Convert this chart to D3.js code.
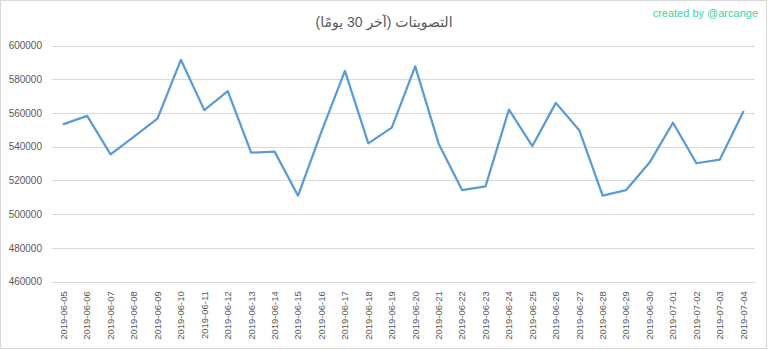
<!DOCTYPE html>
<html>
<head>
<meta charset="utf-8">
<script src="https://cdn.jsdelivr.net/npm/d3@7"></script>
<style>
  html, body { margin: 0; padding: 0; background: #fff; }
  svg { display: block; }
</style>
</head>
<body>
<svg id="chart" width="768" height="350"></svg>
<script>
const dates = [
  "2019-06-05","2019-06-06","2019-06-07","2019-06-08","2019-06-09","2019-06-10",
  "2019-06-11","2019-06-12","2019-06-13","2019-06-14","2019-06-15","2019-06-16",
  "2019-06-17","2019-06-18","2019-06-19","2019-06-20","2019-06-21","2019-06-22",
  "2019-06-23","2019-06-24","2019-06-25","2019-06-26","2019-06-27","2019-06-28",
  "2019-06-29","2019-06-30","2019-07-01","2019-07-02","2019-07-03","2019-07-04"
];
const votes = [
  553400, 558300, 535500, 546000, 556700, 591500,
  561700, 572900, 536500, 537100, 511000, 549000,
  585000, 542000, 551300, 587600, 541800, 514300,
  516500, 562000, 540400, 566000, 549800, 511000,
  514300, 530600, 554200, 530200, 532400, 560700
];
const yTicks = [460000, 480000, 500000, 520000, 540000, 560000, 580000, 600000];
const title = "التصويتات (آخر 30 يومًا)";
const watermark = "created by @arcange";

const svg = d3.select("#chart");
const W = 768, H = 350;
const plot = { left: 52, right: 755, top: 45.5, bottom: 281.7 };

// chart border
svg.append("rect")
  .attr("x", 0.5).attr("y", 0.5)
  .attr("width", W - 2).attr("height", H - 2)
  .attr("fill", "#fff").attr("stroke", "#d9d9d9").attr("stroke-width", 1);

const x = d3.scaleBand().domain(dates).range([plot.left, plot.right]).padding(0);
const y = d3.scaleLinear().domain([460000, 600000]).range([plot.bottom, plot.top]);

// gridlines
svg.append("g").selectAll("line").data(yTicks).join("line")
  .attr("x1", plot.left).attr("x2", plot.right)
  .attr("y1", d => Math.round(y(d)) + 0.5).attr("y2", d => Math.round(y(d)) + 0.5)
  .attr("stroke", "#d9d9d9").attr("stroke-width", 1);

// y axis labels
const yAxis = d3.axisLeft(y).tickValues(yTicks).tickSize(0).tickPadding(0)
  .tickFormat(d3.format("d"));
const yg = svg.append("g").attr("transform", `translate(42,0)`).call(yAxis);
yg.select(".domain").remove();
yg.selectAll("text")
  .attr("fill", "#595959")
  .attr("font-family", "'Liberation Sans', Arial, sans-serif")
  .attr("font-size", "10px");

// x axis labels
const xAxis = d3.axisBottom(x).tickSize(0).tickPadding(0);
const xg = svg.append("g").attr("transform", `translate(0,${plot.bottom})`).call(xAxis);
xg.select(".domain").remove();
xg.selectAll("text")
  .attr("fill", "#595959")
  .attr("font-family", "'Liberation Sans', Arial, sans-serif")
  .attr("font-size", "9.5px")
  .attr("text-anchor", "end")
  .attr("transform", "rotate(-90)")
  .attr("x", -9.5)
  .attr("y", 0)
  .attr("dy", "0.35em");

// line
const line = d3.line()
  .x((d, i) => x(dates[i]) + x.bandwidth() / 2)
  .y(d => y(d));
svg.append("path").datum(votes)
  .attr("d", line)
  .attr("fill", "none")
  .attr("stroke", "#5b9bd5")
  .attr("stroke-width", 2.25)
  .attr("stroke-linejoin", "round")
  .attr("stroke-linecap", "round");

// title
svg.append("text")
  .attr("x", 384).attr("y", 27)
  .attr("text-anchor", "middle")
  .attr("fill", "#595959")
  .attr("font-family", "'Liberation Sans', 'DejaVu Sans', Arial, sans-serif")
  .attr("font-size", "14px")
  .text(title);

// watermark
svg.append("text")
  .attr("x", 758).attr("y", 17)
  .attr("text-anchor", "end")
  .attr("fill", "#34d9a5")
  .attr("font-family", "'Liberation Sans', Arial, sans-serif")
  .attr("font-size", "11px")
  .text(watermark);
</script>
</body>
</html>
